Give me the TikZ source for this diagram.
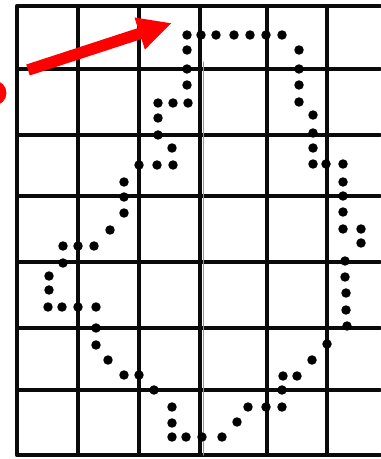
\documentclass[tikz,border=0pt]{standalone}
\usetikzlibrary{arrows.meta}
\definecolor{gridcol}{RGB}{10,10,10}
\definecolor{seamcol}{RGB}{150,150,150}
\definecolor{pointercol}{RGB}{255,0,0}
\newcommand{\pixel}[2]{\fill[black] (#1,#2) circle (2.7pt);}

\begin{document}
\begin{tikzpicture}[x=0.02cm, y=-0.02cm, line cap=round, line join=round]
\useasboundingbox (0,0) rectangle (380,459);

% ------------------------------------------------------------------
% Raster grid (page cut off on the right)
% ------------------------------------------------------------------
\foreach \gx in {78,139,200,267,327}{ \draw[gridcol, line width=2pt] (\gx,6) -- (\gx,455); }
\foreach \gy in {69,135,196,262,328,390}{ \draw[gridcol, line width=2pt] (17,\gy) -- (380,\gy); }
\draw[gridcol, line width=2.4pt] (380,6) -- (17,6) -- (17,455) -- (380,455);
\draw[seamcol, line width=0.8pt] (203.5,62) -- (203.5,455);   % fold seam

% ------------------------------------------------------------------
% Outline pixels, walked clockwise from the top row
% ------------------------------------------------------------------
\foreach \px/\py in {187/35,201/35,216/35,234/35,250/35,266/35,282/35,
    299/50,299/69,299/85,299/102,
    313/115,313/133,313/148,313/164,326/164,343/164,
    343/182,343/196,343/212,343/229,361/229,361/243}{ \pixel{\px}{\py} }   % upper right
\foreach \px/\py in {345/261,345/277,346/293,346/310,347/326,
    327/344,312/360,297/376,283/376,282/390,282/407,266/407,248/407,
    237/422,222/437,202/437,186/437,172/437,172/423,172/407}{ \pixel{\px}{\py} } % lower right
\foreach \px/\py in {154/390,139/375,124/375,108/360,96/345,96/328,96/307,
    78/307,62/307,48/307,49/290,49/276,63/263}{ \pixel{\px}{\py} }           % lower left
\foreach \px/\py in {63/246,78/246,94/246,110/230,124/213,124/197,124/182,
    139/165,157/165,173/165,172/148,158/135,158/118,158/103,173/103,188/103,
    187/85,187/69,187/50}{ \pixel{\px}{\py} }                                 % upper left

% ------------------------------------------------------------------
% Red pointer
% ------------------------------------------------------------------
\fill[pointercol] (-6,93) circle (0.25cm);
\coordinate (tailpt) at (28,70);
\coordinate (tippt) at (172,23);
\draw[pointercol, line width=0.23cm, line cap=butt,
  -{Triangle[length=0.68cm, width=0.62cm]}] (tailpt) -- (tippt);

\end{tikzpicture}
\end{document}
